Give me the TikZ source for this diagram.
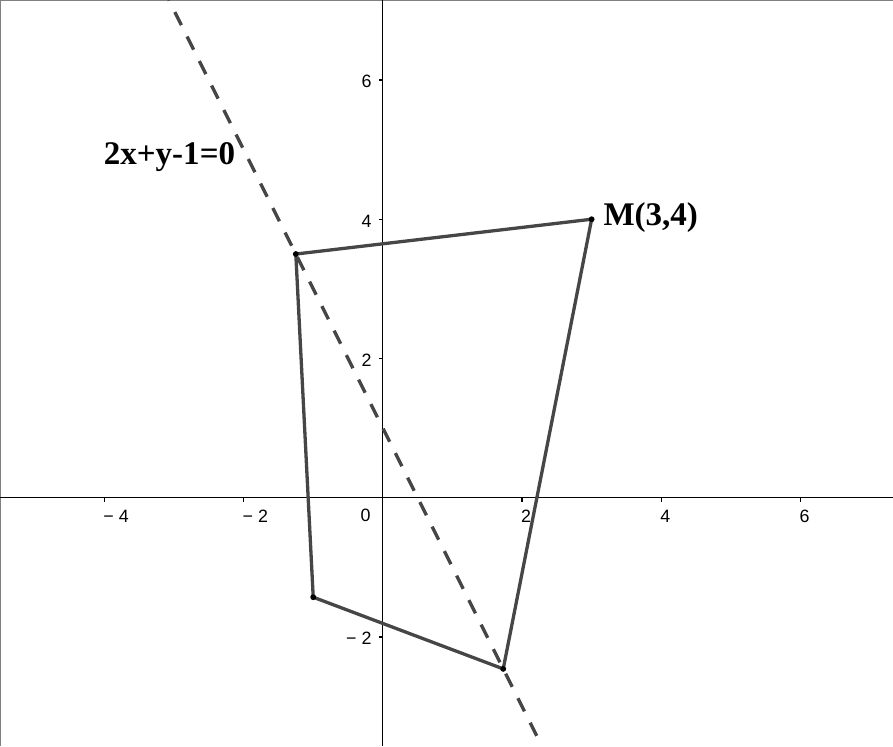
\documentclass[tikz,border=0pt]{standalone}
\usepackage{fontspec}
\setmainfont{Liberation Serif}
\setsansfont{Liberation Sans}
\usetikzlibrary{positioning}
\definecolor{segcol}{HTML}{464646}
\definecolor{framecol}{HTML}{808080}

\begin{document}
\begin{tikzpicture}[
  font=\sffamily\fontsize{7.3}{8.5}\selectfont,
  axis/.style={line width=0.55pt, black},
  seg/.style={line width=1.35pt, segcol, line join=round},
  sym/.style={line width=1.35pt, segcol, dash pattern=on 6pt off 5.2pt, dash phase=5.7pt},
  ticklab/.style={inner sep=0pt},
  ptlab/.style={inner sep=0pt, font=\rmfamily\bfseries\fontsize{13.5}{16}\selectfont},
  dot/.style={circle, fill=black, inner sep=0pt, minimum size=2.4pt}
]
\useasboundingbox (-5.50,-3.57) rectangle (7.33,7.15);
% frame on top and left
\coordinate (fb) at (-5.50,-3.57);
\coordinate (ftl) at (-5.50,7.15);
\coordinate (ftr) at (7.33,7.15);
\draw[framecol, line width=0.8pt] (fb) -- (ftl) -- (ftr);
% axes
\coordinate (xl) at (-5.50,0);
\coordinate (xr) at (7.33,0);
\coordinate (yb) at (0,-3.57);
\coordinate (yt) at (0,7.15);
\draw[axis] (xl) -- (xr);
\draw[axis] (yb) -- (yt);
\foreach \x/\t in {-4/{− 4}, -2/{− 2}, 2/2, 4/4, 6/6} {
  \draw[axis] (\x,0) -- (\x,-0.06);
  \node[ticklab, anchor=west] (xt\x) at (\x-0.02,-0.266) {\t};
}
\foreach \y/\t in {-2/{− 2}, 2/2, 4/4, 6/6} {
  \draw[axis] (0,\y) -- (-0.06,\y);
  \node[ticklab, anchor=east] (yt\y) at (-0.155,\y-0.025) {\t};
}
\node[ticklab, anchor=east] (orig) at (-0.17,-0.25) {0};
% the line 2x+y-1=0
\coordinate (ltop) at (-3.075,7.15);
\coordinate (lbot) at (2.285,-3.57);
\draw[sym] (ltop) -- (lbot);
\node[ptlab, anchor=base] (eqlab) at (-3.065,4.78) {2x+y-1=0};
% quadrilateral
\coordinate (A) at (-1.25,3.5);
\coordinate (B) at (-1,-1.43);
\coordinate (C) at (1.73,-2.46);
\coordinate (M) at (3,4);
\draw[seg] (A) -- (M) -- (C) -- (B) -- cycle;
\node[dot] (dA) at (A) {};
\node[dot] (dB) at (B) {};
\node[dot] (dC) at (C) {};
\node[dot] (dM) at (M) {};
\node[ptlab, anchor=base west] (mlab) at (3.164,3.915) {M(3,4)};
\end{tikzpicture}
\end{document}
